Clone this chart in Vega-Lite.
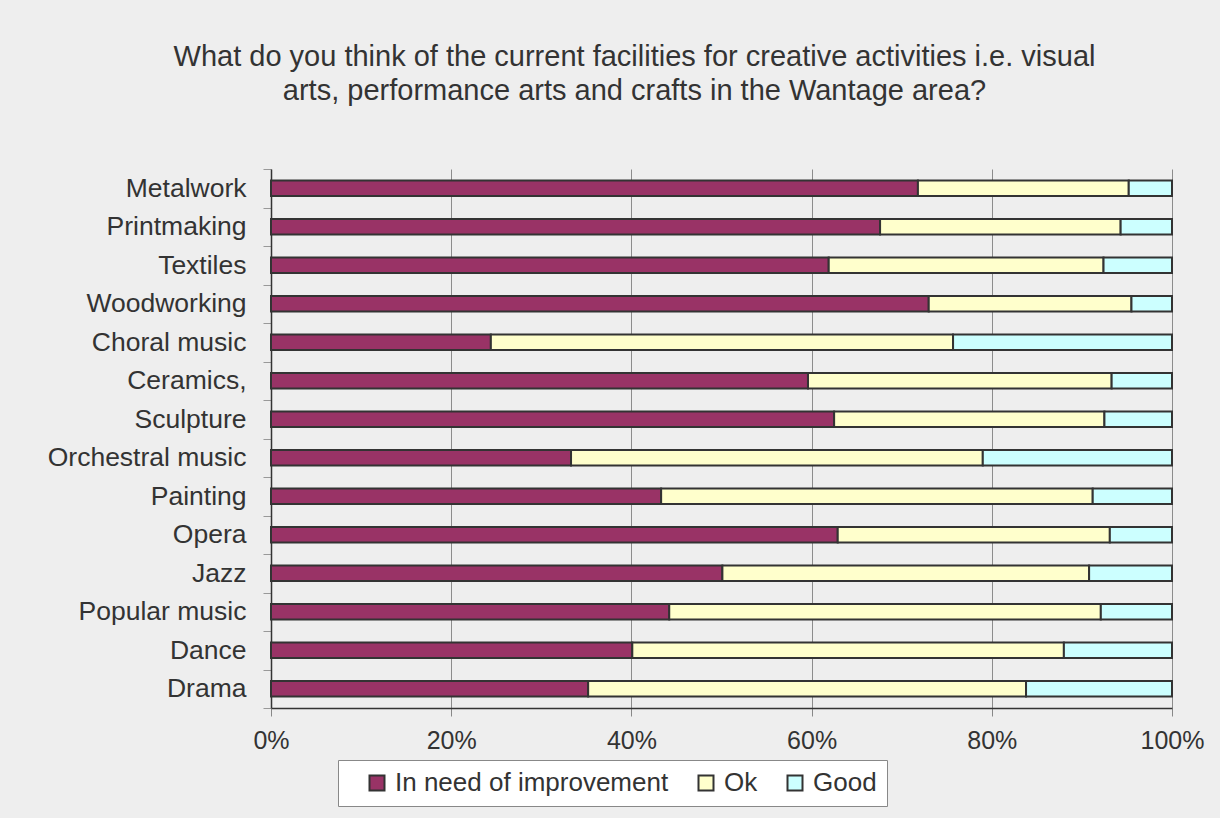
{
  "$schema": "https://vega.github.io/schema/vega-lite/v6.json",
  "width": 901,
  "height": 539,
  "autosize": {"type": "none"},
  "padding": {"left": 271, "top": 169, "right": 48, "bottom": 110},
  "background": "#EEEEEE",
  "title": {
    "text": ["What do you think of the current facilities for creative activities i.e. visual", "arts, performance arts and crafts in the Wantage area?"],
    "anchor": "middle",
    "dx": -87,
    "offset": 50,
    "font": "Liberation Sans",
    "fontSize": 29,
    "fontWeight": "normal",
    "color": "#333333",
    "lineHeight": 34
  },
  "data": {
    "values": [
      {"activity": "Metalwork", "rating": "In need of improvement", "k": 1, "value": 71.8},
      {"activity": "Metalwork", "rating": "Ok", "k": 2, "value": 23.4},
      {"activity": "Metalwork", "rating": "Good", "k": 3, "value": 4.8},
      {"activity": "Printmaking", "rating": "In need of improvement", "k": 1, "value": 67.6},
      {"activity": "Printmaking", "rating": "Ok", "k": 2, "value": 26.7},
      {"activity": "Printmaking", "rating": "Good", "k": 3, "value": 5.7},
      {"activity": "Textiles", "rating": "In need of improvement", "k": 1, "value": 61.9},
      {"activity": "Textiles", "rating": "Ok", "k": 2, "value": 30.5},
      {"activity": "Textiles", "rating": "Good", "k": 3, "value": 7.6},
      {"activity": "Woodworking", "rating": "In need of improvement", "k": 1, "value": 73.0},
      {"activity": "Woodworking", "rating": "Ok", "k": 2, "value": 22.5},
      {"activity": "Woodworking", "rating": "Good", "k": 3, "value": 4.5},
      {"activity": "Choral music", "rating": "In need of improvement", "k": 1, "value": 24.4},
      {"activity": "Choral music", "rating": "Ok", "k": 2, "value": 51.3},
      {"activity": "Choral music", "rating": "Good", "k": 3, "value": 24.3},
      {"activity": "Ceramics,", "rating": "In need of improvement", "k": 1, "value": 59.6},
      {"activity": "Ceramics,", "rating": "Ok", "k": 2, "value": 33.7},
      {"activity": "Ceramics,", "rating": "Good", "k": 3, "value": 6.7},
      {"activity": "Sculpture", "rating": "In need of improvement", "k": 1, "value": 62.5},
      {"activity": "Sculpture", "rating": "Ok", "k": 2, "value": 30.0},
      {"activity": "Sculpture", "rating": "Good", "k": 3, "value": 7.5},
      {"activity": "Orchestral music", "rating": "In need of improvement", "k": 1, "value": 33.3},
      {"activity": "Orchestral music", "rating": "Ok", "k": 2, "value": 45.7},
      {"activity": "Orchestral music", "rating": "Good", "k": 3, "value": 21.0},
      {"activity": "Painting", "rating": "In need of improvement", "k": 1, "value": 43.3},
      {"activity": "Painting", "rating": "Ok", "k": 2, "value": 47.9},
      {"activity": "Painting", "rating": "Good", "k": 3, "value": 8.8},
      {"activity": "Opera", "rating": "In need of improvement", "k": 1, "value": 62.9},
      {"activity": "Opera", "rating": "Ok", "k": 2, "value": 30.2},
      {"activity": "Opera", "rating": "Good", "k": 3, "value": 6.9},
      {"activity": "Jazz", "rating": "In need of improvement", "k": 1, "value": 50.1},
      {"activity": "Jazz", "rating": "Ok", "k": 2, "value": 40.7},
      {"activity": "Jazz", "rating": "Good", "k": 3, "value": 9.2},
      {"activity": "Popular music", "rating": "In need of improvement", "k": 1, "value": 44.2},
      {"activity": "Popular music", "rating": "Ok", "k": 2, "value": 47.9},
      {"activity": "Popular music", "rating": "Good", "k": 3, "value": 7.9},
      {"activity": "Dance", "rating": "In need of improvement", "k": 1, "value": 40.1},
      {"activity": "Dance", "rating": "Ok", "k": 2, "value": 47.9},
      {"activity": "Dance", "rating": "Good", "k": 3, "value": 12.0},
      {"activity": "Drama", "rating": "In need of improvement", "k": 1, "value": 35.2},
      {"activity": "Drama", "rating": "Ok", "k": 2, "value": 48.6},
      {"activity": "Drama", "rating": "Good", "k": 3, "value": 16.2}
    ]
  },
  "mark": {"type": "bar", "stroke": "#333333", "strokeWidth": 2, "height": {"band": 0.4}},
  "encoding": {
    "y": {
      "field": "activity",
      "type": "nominal",
      "sort": null,
      "title": null,
      "scale": {"paddingInner": 0, "paddingOuter": 0},
      "axis": {
        "labelFont": "Liberation Sans",
        "labelFontSize": 26.5,
        "labelColor": "#333333",
        "labelPadding": 17,
        "labelLimit": 0,
        "tickSize": 8,
        "tickColor": "#999999",
        "tickBand": "extent",
        "domainColor": "#333333",
        "domainWidth": 1.5,
        "grid": false
      }
    },
    "x": {
      "field": "value",
      "type": "quantitative",
      "stack": "normalize",
      "title": null,
      "scale": {"domain": [0, 1], "nice": false},
      "axis": {
        "values": [0, 0.2, 0.4, 0.6, 0.8, 1],
        "format": ".0%",
        "labelFont": "Liberation Sans",
        "labelFontSize": 25,
        "labelColor": "#333333",
        "labelPadding": 12,
        "labelFlush": false,
        "tickSize": 8,
        "tickColor": "#888888",
        "domainColor": "#333333",
        "domainWidth": 1.5,
        "grid": true,
        "gridColor": "#8C8C8C",
        "gridWidth": 1,
        "gridOpacity": 1
      }
    },
    "color": {
      "field": "rating",
      "type": "nominal",
      "title": null,
      "scale": {
        "domain": ["In need of improvement", "Ok", "Good"],
        "range": ["#993366", "#FFFFCC", "#CCFFFF"]
      },
      "legend": {
        "orient": "none",
        "legendX": 67,
        "legendY": 591,
        "direction": "horizontal",
        "columns": 3,
        "columnPadding": 8,
        "symbolType": "square",
        "symbolSize": 225,
        "symbolStrokeColor": "#333333",
        "symbolStrokeWidth": 2,
        "symbolOpacity": 1,
        "symbolOffset": 16,
        "labelFont": "Liberation Sans",
        "labelFontSize": 26,
        "labelColor": "#333333",
        "labelOffset": 5,
        "labelLimit": 0,
        "fillColor": "#FFFFFF",
        "strokeColor": "#888888",
        "padding": 10,
        "offset": 0
      }
    },
    "order": {"field": "k", "type": "quantitative"}
  },
  "config": {"view": {"stroke": null}}
}
